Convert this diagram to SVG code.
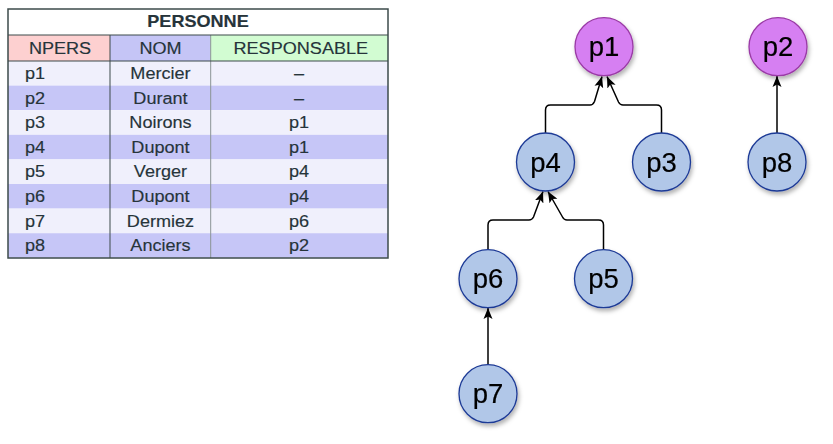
<svg xmlns="http://www.w3.org/2000/svg" width="833" height="444" viewBox="0 0 833 444">
<style>
.t{font-family:"Liberation Sans",Arial,sans-serif;font-size:16.3px;fill:#26343a;stroke:#26343a;stroke-width:0.15}
.tb{font-weight:bold}
.m{text-anchor:middle}
.nb{fill:#b1c7e8;stroke:#1d3a96;stroke-width:1.3}
.np{fill:#d67ff2;stroke:#9a3aa6;stroke-width:1.3}
.nt{font-family:"Liberation Sans",Arial,sans-serif;font-size:27.5px;fill:#000;stroke:#000;stroke-width:0.2;text-anchor:middle}
.c{fill:none;stroke:#000;stroke-width:1.5}
</style>
<defs>
<marker id="ah" markerUnits="userSpaceOnUse" markerWidth="12" markerHeight="12" viewBox="0 0 12 12" refX="11" refY="6" orient="auto">
<path d="M0,1.5 L11,6 L0,10.5 L2.5,6 Z" fill="#000"/>
</marker>
<filter id="sh" x="-30%" y="-30%" width="160%" height="160%">
<feDropShadow dx="1.5" dy="3" stdDeviation="2" flood-color="#000" flood-opacity="0.3"/>
</filter>
</defs>

<g id="table">
<rect x="8" y="9" width="380" height="26" fill="#ffffff"/>
<rect x="8" y="35" width="102" height="26" fill="#fdd0d0"/>
<rect x="110" y="35" width="100.7" height="26" fill="#c5c5f6"/>
<rect x="210.7" y="35" width="177.3" height="26" fill="#d2fcd2"/>
<rect x="8" y="61" width="380" height="24.6" fill="#f0f0fc"/>
<rect x="8" y="85.6" width="380" height="24.6" fill="#c6c6f7"/>
<rect x="8" y="110.2" width="380" height="24.6" fill="#f0f0fc"/>
<rect x="8" y="134.8" width="380" height="24.6" fill="#c6c6f7"/>
<rect x="8" y="159.4" width="380" height="24.6" fill="#f0f0fc"/>
<rect x="8" y="184" width="380" height="24.6" fill="#c6c6f7"/>
<rect x="8" y="208.6" width="380" height="24.6" fill="#f0f0fc"/>
<rect x="8" y="233.2" width="380" height="24.6" fill="#c6c6f7"/>
<line x1="110" y1="35" x2="110" y2="258" stroke="#3d4b4b" stroke-width="1"/>
<line x1="210.7" y1="35" x2="210.7" y2="258" stroke="#8a9494" stroke-width="1"/>
<line x1="8" y1="35" x2="388" y2="35" stroke="#3d4b4b" stroke-width="1.2"/>
<line x1="8" y1="61" x2="388" y2="61" stroke="#3d4b4b" stroke-width="1.2"/>
<rect x="8" y="9" width="380" height="249" fill="none" stroke="#3d4b4b" stroke-width="1.5"/>
<g transform="scale(1.11,1)">
<text class="t tb m" x="178.4" y="27.5">PERSONNE</text>
<text class="t m" x="54.1" y="54">NPERS</text>
<text class="t m" x="144.6" y="54">NOM</text>
<text class="t m" x="271" y="54">RESPONSABLE</text>
<text class="t" x="22.5" y="79">p1</text>
<text class="t m" x="144.6" y="79">Mercier</text>
<text class="t m" x="269.4" y="79">–</text>
<text class="t" x="22.5" y="103.6">p2</text>
<text class="t m" x="144.6" y="103.6">Durant</text>
<text class="t m" x="269.4" y="103.6">–</text>
<text class="t" x="22.5" y="128.2">p3</text>
<text class="t m" x="144.6" y="128.2">Noirons</text>
<text class="t m" x="269.4" y="128.2">p1</text>
<text class="t" x="22.5" y="152.8">p4</text>
<text class="t m" x="144.6" y="152.8">Dupont</text>
<text class="t m" x="269.4" y="152.8">p1</text>
<text class="t" x="22.5" y="177.4">p5</text>
<text class="t m" x="144.6" y="177.4">Verger</text>
<text class="t m" x="269.4" y="177.4">p4</text>
<text class="t" x="22.5" y="202">p6</text>
<text class="t m" x="144.6" y="202">Dupont</text>
<text class="t m" x="269.4" y="202">p4</text>
<text class="t" x="22.5" y="226.6">p7</text>
<text class="t m" x="144.6" y="226.6">Dermiez</text>
<text class="t m" x="269.4" y="226.6">p6</text>
<text class="t" x="22.5" y="251.2">p8</text>
<text class="t m" x="144.6" y="251.2">Anciers</text>
<text class="t m" x="269.4" y="251.2">p2</text>
</g>
</g>

<g id="connectors">
<path class="c" marker-end="url(#ah)" d="M545.5,133 L545.5,110 Q545.5,105 550.5,105 L590,105 Q593,105 594.5,101.5 L602,76.5"/>
<path class="c" marker-end="url(#ah)" d="M661.5,133 L661.5,110 Q661.5,105 656.5,105 L623,105 Q620,105 618.5,102 L607,76.5"/>
<path class="c" marker-end="url(#ah)" d="M777,133 L777,76"/>
<path class="c" marker-end="url(#ah)" d="M488,250 L488,225 Q488,220 493,220 L529,220 Q532,220 533.5,217 L543,191.5"/>
<path class="c" marker-end="url(#ah)" d="M603.5,250 L603.5,225 Q603.5,220 598.5,220 L567,220 Q564,220 562.5,217 L548,191.5"/>
<path class="c" marker-end="url(#ah)" d="M488,365 L488,308"/>
</g>

<g id="p1" filter="url(#sh)"><circle class="np" cx="604" cy="46.7" r="29"/><text class="nt" x="604" y="56.2">p1</text></g>
<g id="p2" filter="url(#sh)"><circle class="np" cx="778" cy="46.7" r="29"/><text class="nt" x="778" y="56.2">p2</text></g>
<g id="p4" filter="url(#sh)"><circle class="nb" cx="545.5" cy="162" r="29"/><text class="nt" x="545.5" y="171.5">p4</text></g>
<g id="p3" filter="url(#sh)"><circle class="nb" cx="661.5" cy="162" r="29"/><text class="nt" x="661.5" y="171.5">p3</text></g>
<g id="p8" filter="url(#sh)"><circle class="nb" cx="777" cy="162" r="29"/><text class="nt" x="777" y="171.5">p8</text></g>
<g id="p6" filter="url(#sh)"><circle class="nb" cx="488" cy="278.7" r="29"/><text class="nt" x="488" y="288.2">p6</text></g>
<g id="p5" filter="url(#sh)"><circle class="nb" cx="603.5" cy="278.7" r="29"/><text class="nt" x="603.5" y="288.2">p5</text></g>
<g id="p7" filter="url(#sh)"><circle class="nb" cx="488" cy="393.7" r="29"/><text class="nt" x="488" y="403.2">p7</text></g>
</svg>
